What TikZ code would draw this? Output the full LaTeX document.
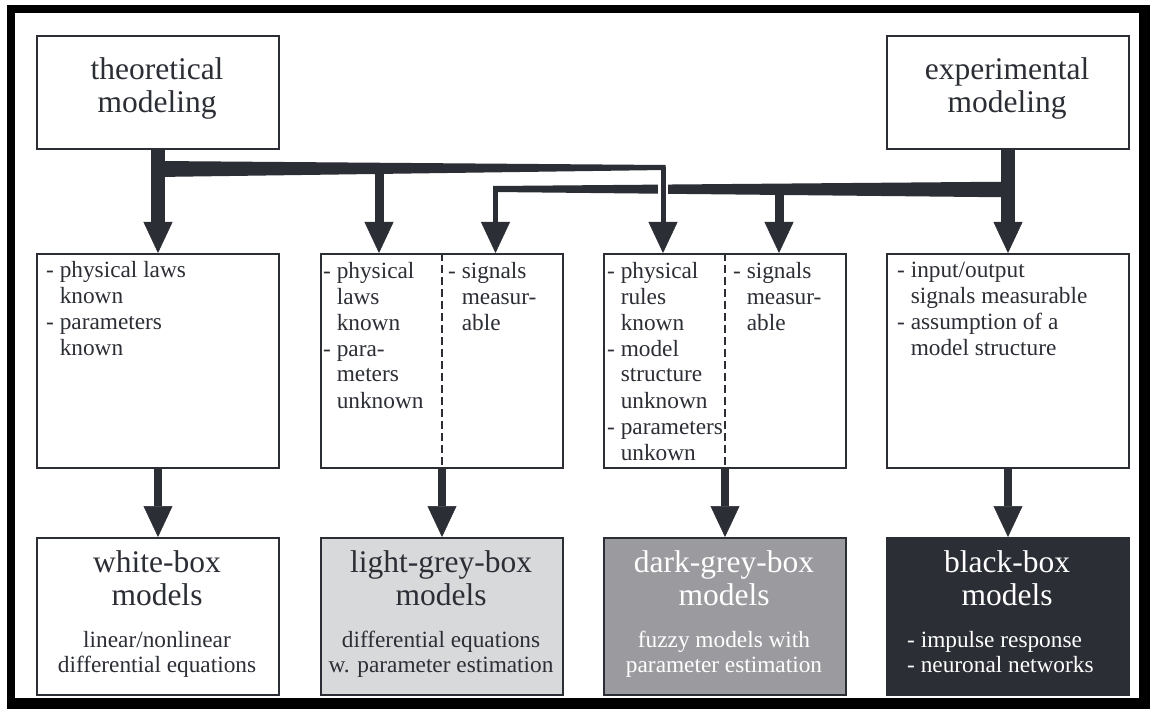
\documentclass[tikz,border=0pt]{standalone}
\usepackage{fontspec}
\setmainfont{Liberation Serif}
\usetikzlibrary{arrows.meta}
\definecolor{ink}{RGB}{44,46,53}
\definecolor{lightfill}{RGB}{216,217,219}
\definecolor{midfill}{RGB}{155,155,159}
\definecolor{darkfill}{RGB}{44,46,53}
% bullet dash with a fixed gap, kept inside tabular cells
\newcommand{\dashitem}{-\kern0.25em}

\begin{document}
\begin{tikzpicture}[x=1pt,y=-1pt,
  box/.style={draw=ink, line width=2pt, minimum width=242pt, minimum height=#1,
              inner sep=0pt, anchor=north west},
  titletext/.style={font=\fontsize{31.5}{33}\selectfont, inner sep=0pt, anchor=base, text=ink},
  bodytext/.style={font=\fontsize{23.3}{26}\selectfont, inner sep=0pt, anchor=base west, text=ink},
  subtext/.style={font=\fontsize{23.3}{25}\selectfont, inner sep=0pt, anchor=base, text=ink},
  headed/.style={draw=ink, -{Triangle[width=29pt,length=31pt,line width=0.5pt]}},
  divider/.style={draw=ink, line width=2pt, dash pattern=on 8pt off 4pt}
]
% page and black frame
\useasboundingbox (0,0) rectangle (1153,711);
\fill[white] (0,0) rectangle (1153,711);
\fill[black] (7,5) rectangle (1150,709);
\fill[white] (15,13) rectangle (1139,698);

% source boxes
\node[box=113pt] (theo) at (36,35) {};
\node[box=113pt] (expe) at (886,35) {};
\node[titletext] (theo-t) at (157,80) {\begin{tabular}[t]{@{}c@{}}theoretical\\modeling\end{tabular}};
\node[titletext] (expe-t) at (1007,80) {\begin{tabular}[t]{@{}c@{}}experimental\\modeling\end{tabular}};

% requirement boxes
\node[box=214pt] (m1) at (36,253) {};
\node[box=214pt] (m2) at (320,253) {};
\node[box=214pt] (m3) at (603,253) {};
\node[box=214pt] (m4) at (886,253) {};
\draw[divider] (m2.north) -- (m2.south);
\draw[divider] (m3.north) -- (m3.south);

\node[bodytext] (m1-t) at (46,277) {\begin{tabular}[t]{@{}l@{}l@{}}\dashitem & physical laws\\ & known\\ \dashitem & parameters\\ & known\end{tabular}};
\node[bodytext] (m2-l) at (323,278) {\begin{tabular}[t]{@{}l@{}l@{}}\dashitem & physical\\ & laws\\ & known\\ \dashitem & para-\\ & meters\\ & unknown\end{tabular}};
\node[bodytext] (m2-r) at (448,278) {\begin{tabular}[t]{@{}l@{}l@{}}\dashitem & signals\\ & measur-\\ & able\end{tabular}};
\node[bodytext] (m3-l) at (607,278) {\begin{tabular}[t]{@{}l@{}l@{}}\dashitem & physical\\ & rules\\ & known\\ \dashitem & model\\ & structure\\ & unknown\\ \dashitem & parameters\\ & unkown\end{tabular}};
\node[bodytext] (m3-r) at (733,278) {\begin{tabular}[t]{@{}l@{}l@{}}\dashitem & signals\\ & measur-\\ & able\end{tabular}};
\node[bodytext] (m4-t) at (897,277) {\begin{tabular}[t]{@{}l@{}l@{}}\dashitem & input/output\\ & signals measurable\\ \dashitem & assumption of a\\ & model structure\end{tabular}};

% model boxes
\node[box=157pt] (b1) at (36,537) {};
\node[box=157pt, fill=lightfill] (b2) at (320,537) {};
\node[box=157pt, fill=midfill] (b3) at (603,537) {};
\node[box=157pt, fill=darkfill] (b4) at (886,537) {};

\node[titletext] (b1-t) at (157,572) {\begin{tabular}[t]{@{}c@{}}white-box\\models\end{tabular}};
\node[titletext] (b2-t) at (441,572) {\begin{tabular}[t]{@{}c@{}}light-grey-box\\models\end{tabular}};
\node[titletext, text=white] (b3-t) at (724,572) {\begin{tabular}[t]{@{}c@{}}dark-grey-box\\models\end{tabular}};
\node[titletext, text=white] (b4-t) at (1007,572) {\begin{tabular}[t]{@{}c@{}}black-box\\models\end{tabular}};

\node[subtext] (b1-s) at (157,647) {\begin{tabular}[t]{@{}c@{}}linear/nonlinear\\differential equations\end{tabular}};
\node[subtext] (b2-s) at (441,647) {\begin{tabular}[t]{@{}c@{}}differential equations\\w. parameter estimation\end{tabular}};
\node[subtext, text=white] (b3-s) at (724,647) {\begin{tabular}[t]{@{}c@{}}fuzzy models with\\parameter estimation\end{tabular}};
\node[subtext, text=white, anchor=base west] (b4-s) at (907,647) {\begin{tabular}[t]{@{}l@{}}- impulse response\\- neuronal networks\end{tabular}};

% tapering distribution bars
\coordinate (tR) at (663,167);
\coordinate (eL) at (495.5,189);
\fill[ink] (157,161) -- (665.5,165) -- (665.5,170) -- (157,177) -- cycle;
\fill[ink] (1007,181.7) -- (493.2,186) -- (493.2,192) -- (1007,197.3) -- cycle;

% branches from theoretical modeling
\draw[headed, line width=14.5pt] (theo.south) -- (m1.north);
\coordinate (t2) at (379,172);
\draw[headed, line width=9pt] (t2) -- (t2 |- m2.north);
% gap where the thin branch crosses the experimental bar
\draw[white, line width=10pt] (663,179) -- (663,200);
\draw[headed, line width=5pt] (tR) -- (tR |- m3.north);

% branches from experimental modeling
\draw[headed, line width=14.5pt] (expe.south) -- (m4.north);
\coordinate (e3) at (779,190);
\draw[headed, line width=9pt] (e3) -- (e3 |- m3.north);
\draw[headed, line width=4.5pt] (eL) -- (eL |- m2.north);

% requirements to model classes
\draw[headed, line width=7.5pt] (m1.south) -- (b1.north);
\draw[headed, line width=7.5pt] (m2.south) -- (b2.north);
\draw[headed, line width=7.5pt] (m3.south) -- (b3.north);
\draw[headed, line width=7.5pt] (m4.south) -- (b4.north);
\end{tikzpicture}
\end{document}
